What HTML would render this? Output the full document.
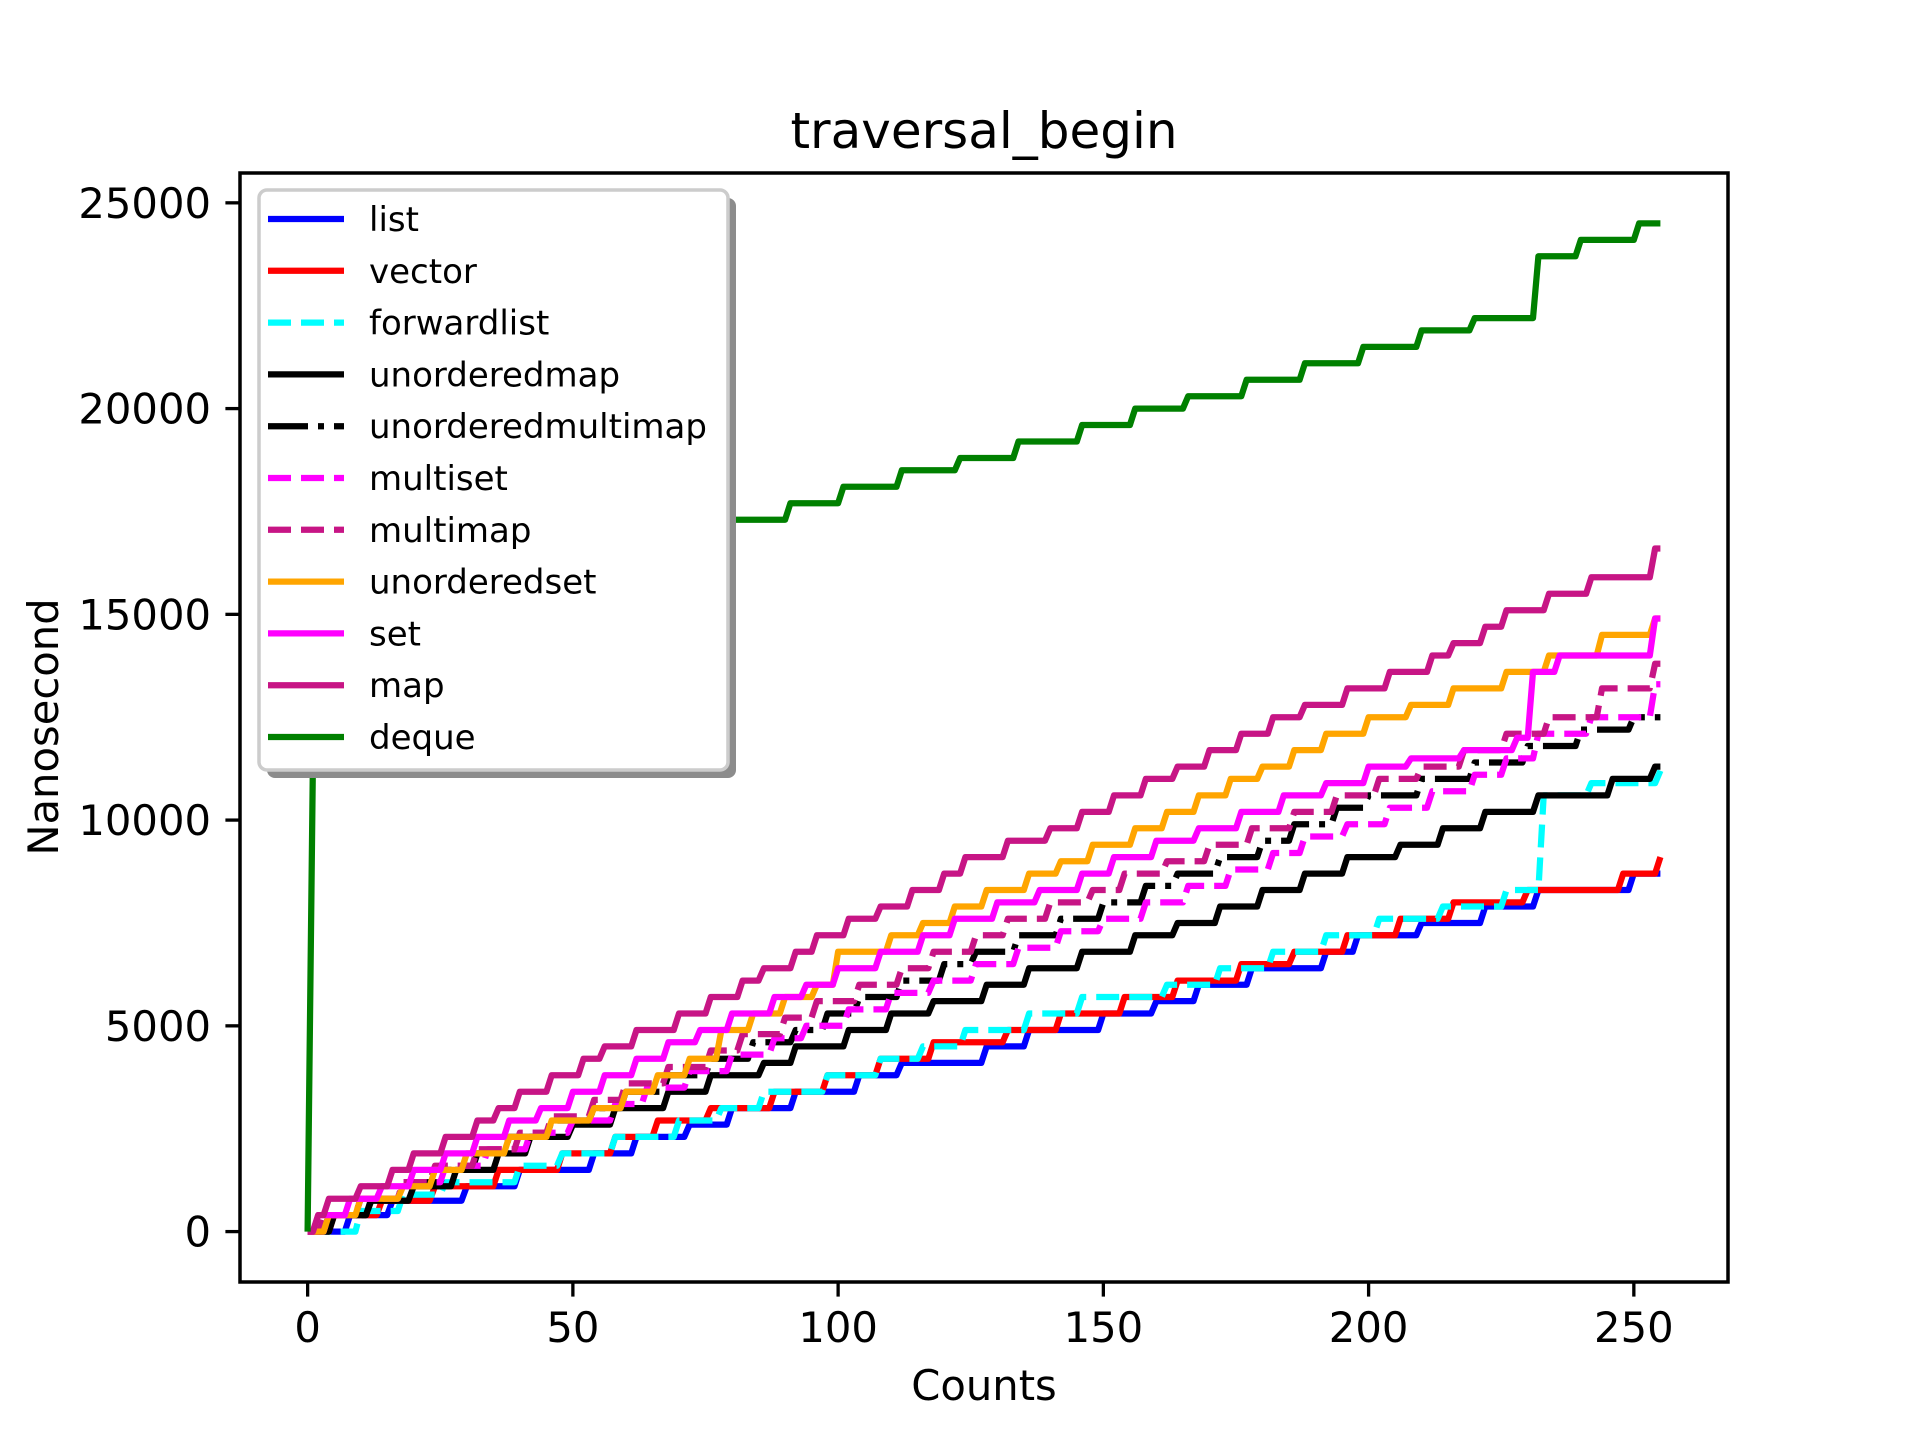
<!DOCTYPE html>
<html><head><meta charset="utf-8"><style>
html,body{margin:0;padding:0;background:#fff;}
svg{display:block;font-family:"DejaVu Sans","Liberation Sans",sans-serif;}
</style></head><body>
<svg id="chart" width="1920" height="1440" viewBox="0 0 1920 1440" xmlns="http://www.w3.org/2000/svg">
<rect x="0" y="0" width="1920" height="1440" fill="#fff"/>
<g id="series"></g>
<rect x="240" y="173" width="1488" height="1109" fill="none" stroke="#000" stroke-width="3.5"/>
<g id="xticks"></g>
<g id="yticks"></g>
<text x="984" y="148" font-size="50" text-anchor="middle">traversal_begin</text>
<text x="984" y="1400" font-size="41.7" text-anchor="middle">Counts</text>
<text x="58" y="727" font-size="41.7" text-anchor="middle" transform="rotate(-90 58 727)">Nanosecond</text>
<g id="legend"></g>
</svg>
<script>
const names=["list","vector","forwardlist","unorderedmap","unorderedmultimap","multiset","multimap","unorderedset","set","map","deque"];
const colors=["#0000ff","#ff0000","#00ffff","#000000","#000000","#ff00ff","#c71585","#ffa500","#ff00ff","#c71585","#008000"];
const dashes=["","","23,10","","40,10,6,10","23,10","23,10","","","",""];
const xTicks=[0,50,100,150,200,250];
const yTicks=[0,5000,10000,15000,20000,25000];
// step change points: [x, newValue]
const listSteps=[[8,400],[16,750],[30,1100],[40,1500],[54,1900],[62,2300],[72,2600],[80,3000],[92,3400],[104,3800],[112,4100],[128,4500],[136,4900],[150,5300],[160,5600],[168,6000],[178,6400],[192,6800],[198,7200],[210,7500],[222,7900],[232,8300],[250,8700]];
const vectorSteps=[[5,400],[14,750],[24,1100],[36,1500],[48,1900],[58,2300],[66,2700],[76,3000],[88,3400],[98,3800],[108,4200],[118,4600],[132,4900],[142,5300],[154,5700],[164,6100],[176,6500],[186,6800],[196,7200],[206,7600],[216,8000],[230,8300],[248,8700],[255,9100]];
const forwardlistSteps=[[10,500],[18,900],[26,1200],[40,1600],[48,1900],[58,2300],[70,2700],[78,3000],[86,3400],[98,3800],[108,4200],[116,4500],[124,4900],[136,5300],[146,5700],[162,6000],[172,6400],[182,6800],[192,7200],[202,7600],[214,7900],[226,8300],[233,10600],[242,10900],[255,11200]];
const unorderedmapSteps=[[5,400],[12,750],[20,1100],[28,1500],[36,1900],[42,2300],[50,2600],[58,3000],[68,3400],[76,3800],[86,4100],[92,4500],[102,4900],[110,5300],[118,5600],[128,6000],[136,6400],[146,6800],[156,7200],[164,7500],[172,7900],[180,8300],[188,8700],[196,9100],[206,9400],[214,9800],[222,10200],[232,10600],[246,11000],[254,11300]];
const unorderedmultimapSteps=[[4,400],[12,800],[18,1200],[26,1500],[32,1900],[38,2300],[46,2700],[54,3000],[60,3400],[68,3800],[76,4200],[84,4600],[92,4900],[98,5300],[104,5700],[112,6100],[120,6500],[126,6800],[134,7200],[142,7600],[150,8000],[158,8400],[164,8700],[172,9100],[180,9500],[186,9900],[194,10300],[200,10600],[210,11000],[220,11400],[230,11800],[240,12200],[250,12500]];
const multisetSteps=[[4,400],[10,800],[18,1200],[26,1600],[34,2000],[42,2400],[50,2700],[58,3100],[64,3500],[72,3900],[80,4300],[88,4700],[94,5000],[102,5400],[110,5800],[118,6100],[126,6500],[134,6900],[142,7300],[150,7600],[158,8000],[166,8400],[174,8800],[182,9200],[188,9600],[196,9900],[204,10300],[212,10700],[220,11100],[226,11500],[232,12100],[242,12500],[254,13300]];
const multimapSteps=[[3,400],[10,800],[18,1200],[24,1600],[32,2000],[40,2400],[46,2800],[54,3200],[60,3600],[68,4000],[76,4400],[82,4800],[90,5200],[96,5600],[104,6000],[112,6400],[118,6800],[126,7200],[132,7600],[140,8000],[148,8300],[154,8700],[162,9000],[170,9400],[178,9800],[186,10200],[194,10600],[202,11000],[210,11300],[218,11700],[226,12100],[234,12500],[244,13200],[254,13800]];
const unorderedsetSteps=[[4,400],[10,800],[18,1100],[24,1500],[30,1900],[38,2300],[46,2700],[54,3000],[60,3400],[66,3800],[72,4200],[78,4900],[84,5300],[90,5700],[96,6000],[100,6800],[110,7200],[116,7500],[122,7900],[128,8300],[136,8700],[142,9000],[148,9400],[156,9800],[162,10200],[168,10600],[174,11000],[180,11300],[186,11700],[192,12100],[200,12500],[208,12800],[216,13200],[226,13600],[234,14000],[244,14500],[254,14900]];
const setSteps=[[2,400],[8,800],[14,1100],[20,1500],[26,1900],[32,2300],[38,2700],[44,3000],[50,3400],[56,3800],[62,4200],[68,4600],[74,4900],[80,5300],[88,5700],[94,6000],[100,6400],[108,6800],[116,7200],[122,7600],[130,8000],[138,8300],[146,8700],[152,9100],[160,9500],[168,9800],[176,10200],[184,10600],[192,10900],[200,11300],[208,11500],[218,11700],[228,12000],[231,13600],[236,14000],[254,14900]];
const mapSteps=[[2,400],[4,800],[10,1100],[16,1500],[20,1900],[26,2300],[32,2700],[36,3000],[40,3400],[46,3800],[52,4200],[56,4500],[62,4900],[70,5300],[76,5700],[82,6100],[86,6400],[92,6800],[96,7200],[102,7600],[108,7900],[114,8300],[120,8700],[124,9100],[132,9500],[140,9800],[146,10200],[152,10600],[158,11000],[164,11300],[170,11700],[176,12100],[182,12500],[188,12800],[196,13200],[204,13600],[212,14000],[216,14300],[222,14700],[226,15100],[234,15500],[242,15900],[254,16600]];
const dequeSteps=[[1,11400],[10,12000],[20,12700],[30,13400],[40,14100],[50,14800],[60,15500],[70,16200],[79,16900],[80,17300],[91,17700],[101,18100],[112,18500],[123,18800],[134,19200],[146,19600],[156,20000],[166,20300],[177,20700],[188,21100],[199,21500],[210,21900],[220,22200],[232,23700],[240,24100],[251,24500]];
const allSteps=[listSteps,vectorSteps,forwardlistSteps,unorderedmapSteps,unorderedmultimapSteps,multisetSteps,multimapSteps,unorderedsetSteps,setSteps,mapSteps,dequeSteps];
const xMaxCount=255;

const NS="http://www.w3.org/2000/svg";
const L=240,R=1728,T=173,B=1282;
const xmin=-12.75,xmax=267.75,ymin=-1225,ymax=25725;
function sx(v){return L+(v-xmin)/(xmax-xmin)*(R-L);}
function sy(v){return B-(v-ymin)/(ymax-ymin)*(B-T);}
function mk(tag,attrs,parent){const e=document.createElementNS(NS,tag);for(const k in attrs)e.setAttribute(k,attrs[k]);parent.appendChild(e);return e;}

const sg=document.getElementById('series');
allSteps.forEach((steps,i)=>{
  let pts=[[0,0]],prev=0,lx=0;
  steps.forEach(([x,v])=>{ if(x-1>lx) pts.push([x-1,prev]); pts.push([x,v]); prev=v; lx=x; });
  if(lx<xMaxCount) pts.push([xMaxCount,prev]);
  const p=mk('polyline',{points:pts.map(q=>sx(q[0]).toFixed(1)+','+sy(q[1]).toFixed(1)).join(' '),fill:'none',stroke:colors[i],'stroke-width':6.25,'stroke-linejoin':'round'},sg);
  if(dashes[i]) p.setAttribute('stroke-dasharray',dashes[i]);
  
  
});

const xg=document.getElementById('xticks');
xTicks.forEach(t=>{
  const l=mk('line',{x1:sx(t),x2:sx(t),y1:B,y2:B+14.6,stroke:'#000','stroke-width':3.3},xg);
  
  
  const tx=mk('text',{x:sx(t),y:B+60,'font-size':41.7,'text-anchor':'middle'},xg);
  tx.textContent=t;
  
  
});
const yg=document.getElementById('yticks');
yTicks.forEach(t=>{
  const l=mk('line',{x1:L-14.6,x2:L,y1:sy(t),y2:sy(t),stroke:'#000','stroke-width':3.3},yg);
  
  
  const tx=mk('text',{x:L-29,y:sy(t)+15,'font-size':41.7,'text-anchor':'end'},yg);
  tx.textContent=t;
  
  
});

const lg=document.getElementById('legend');
const lx0=259,ly0=190,lw=469,lh=580;
const sh=mk('rect',{x:lx0+8,y:ly0+8,width:lw,height:lh,rx:8,fill:'#8c8c8c'},lg);


const fr=mk('rect',{x:lx0,y:ly0,width:lw,height:lh,rx:8,fill:'#fff',stroke:'#cccccc','stroke-width':3.5},lg);


names.forEach((n,i)=>{
  const cy=219+i*51.8;
  const g=mk('g',{},lg);
  
  
  const hl=mk('line',{x1:268,x2:344,y1:cy,y2:cy,stroke:colors[i],'stroke-width':6.25},g);
  if(dashes[i]) hl.setAttribute('stroke-dasharray',dashes[i]);
  
  
  const tx=mk('text',{x:369,y:cy+12,'font-size':34},g);
  tx.textContent=n;
  
  
});
</script>
</body></html>
